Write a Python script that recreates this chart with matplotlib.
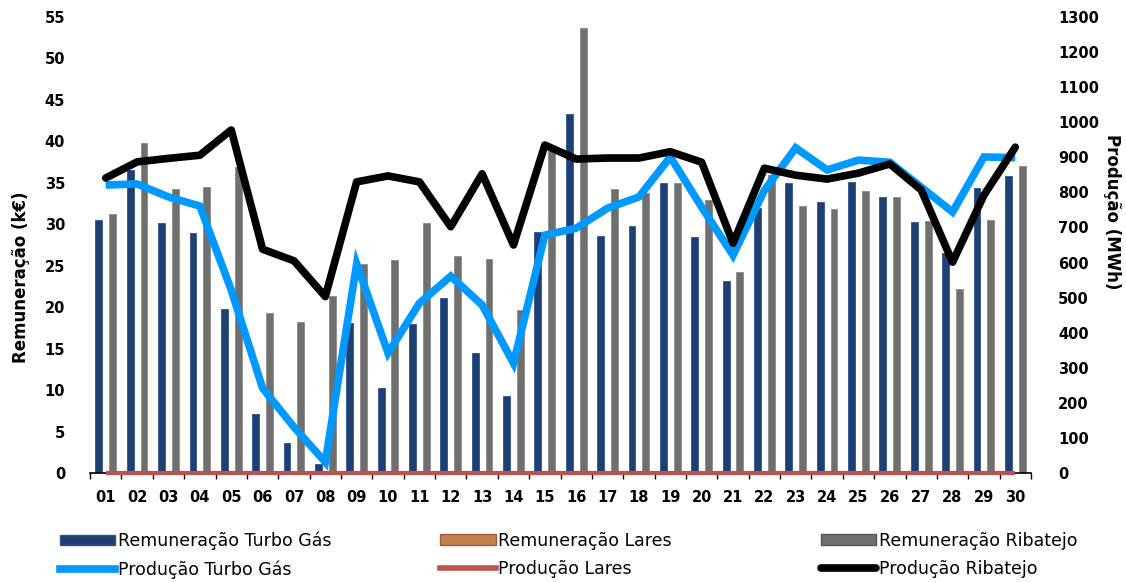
import numpy as np
import matplotlib.pyplot as plt
from matplotlib.patches import Patch
from matplotlib.lines import Line2D

# Data
dias = ['01', '02', '03', '04', '05', '06', '07', '08', '09', '10',
        '11', '12', '13', '14', '15', '16', '17', '18', '19', '20',
        '21', '22', '23', '24', '25', '26', '27', '28', '29', '30']

rem_turbo = [30.5, 36.5, 30.1, 29.0, 19.8, 7.1, 3.6, 1.1, 18.1, 10.3,
             18.0, 21.1, 14.5, 9.3, 29.1, 43.3, 28.6, 29.8, 35.0, 28.5,
             23.1, 32.0, 35.0, 32.7, 35.1, 33.3, 30.3, 26.5, 34.4, 35.8]
rem_lares = [0.0] * 30
rem_ribatejo = [31.3, 39.8, 34.2, 34.5, 36.9, 19.3, 18.2, 21.3, 25.2, 25.7,
                30.1, 26.2, 25.8, 19.7, 39.0, 53.7, 34.2, 33.8, 35.0, 32.9,
                24.3, 36.0, 32.2, 31.8, 34.0, 33.3, 30.4, 22.2, 30.5, 37.0]

prod_turbo = [821, 824, 787, 761, 522, 242, 131, 31, 596, 342,
              484, 561, 479, 313, 678, 698, 755, 787, 901, 758,
              621, 806, 927, 864, 892, 886, 815, 744, 901, 899]
prod_lares = [0] * 30
prod_ribatejo = [841, 887, 897, 906, 978, 638, 605, 503, 830, 847,
                 830, 702, 853, 650, 935, 895, 898, 898, 916, 886,
                 655, 869, 849, 838, 855, 881, 807, 601, 792, 929]

# Colours
c_turbo = '#1f3f70'
c_lares = '#c0824d'
c_riba = '#6f6f6f'
c_pturbo = '#0099ff'
c_plares = '#c0504d'
c_priba = '#000000'

plt.rcParams['font.family'] = 'DejaVu Sans'

fig = plt.figure(figsize=(11.26, 5.83), dpi=100)
ax = fig.add_axes([0.080, 0.1887, 0.8356, 0.7821])
ax2 = ax.twinx()

x = np.arange(len(dias))
w = 0.22
ax.bar(x - w, rem_turbo, w, color=c_turbo, edgecolor='#2c5494', linewidth=0.6, zorder=2)
ax.bar(x, rem_lares, w, color=c_lares, zorder=2)
ax.bar(x + w, rem_ribatejo, w, color=c_riba, edgecolor='#8a8a8a', linewidth=0.6, zorder=2)

ax2.plot(x, prod_lares, color=c_plares, lw=3, solid_capstyle='butt', clip_on=False)
ax2.plot(x, prod_turbo, color=c_pturbo, lw=5.5, solid_joinstyle='miter', solid_capstyle='butt')
ax2.plot(x, prod_ribatejo, color=c_priba, lw=5.5, solid_joinstyle='round', solid_capstyle='round')

ax.set_xlim(-0.5, len(dias) - 0.5)
ax.set_ylim(0, 55)
ax2.set_ylim(0, 1300)
ax.set_yticks(np.arange(0, 56, 5))
ax2.set_yticks(np.arange(0, 1301, 100))

# x ticks: labels at centres, tick marks at boundaries
ax.set_xticks(x)
ax.set_xticklabels(dias, fontsize=10.5, fontweight='bold')
ax.tick_params(axis='x', length=0, pad=12)
ax.set_xticks(np.arange(-0.5, len(dias)), minor=True)
ax.tick_params(axis='x', which='minor', length=4, width=1, direction='out')

ax.tick_params(axis='y', length=0, pad=18, labelsize=10.5)
ax2.tick_params(axis='y', length=0, pad=19.5, labelsize=10.5)
for lab in ax.get_yticklabels() + ax2.get_yticklabels():
    lab.set_fontweight('bold')

for a in (ax, ax2):
    for s in ('top', 'left', 'right'):
        a.spines[s].set_visible(False)
ax2.spines['bottom'].set_visible(False)
ax.spines['bottom'].set_linewidth(1.2)

ax.set_ylabel('Remuneração (k€)', fontsize=12, fontweight='bold', va='center')
ax.yaxis.set_label_coords(-0.073, 0.43)
ax2.set_ylabel('Produção (MWh)', fontsize=12, fontweight='bold', rotation=270, va='center')
ax2.yaxis.set_label_coords(1.086, 0.572)

# Legend: three columns placed at fixed positions
groups = [
    ([Patch(facecolor=c_turbo, edgecolor='#2c5494'), Line2D([], [], color=c_pturbo, lw=5.5)],
     ['Remuneração Turbo Gás', 'Produção Turbo Gás'], 0.053),
    ([Patch(facecolor=c_lares, edgecolor='#a0603a'), Line2D([], [], color=c_plares, lw=4)],
     ['Remuneração Lares', 'Produção Lares'], 0.391),
    ([Patch(facecolor=c_riba, edgecolor='#555555'),
      Line2D([], [], color=c_priba, lw=5.5, solid_capstyle='round')],
     ['Remuneração Ribatejo', 'Produção Ribatejo'], 0.729),
]
for hs, ls, x0 in groups:
    fig.legend(hs, ls, loc='upper left', bbox_to_anchor=(x0, 0.088), ncol=1,
               frameon=False, fontsize=12.5, handlelength=3.2, handleheight=0.55,
               handletextpad=0.15, labelspacing=0.6, borderaxespad=0, borderpad=0)

fig.savefig('out.png', dpi=100)
